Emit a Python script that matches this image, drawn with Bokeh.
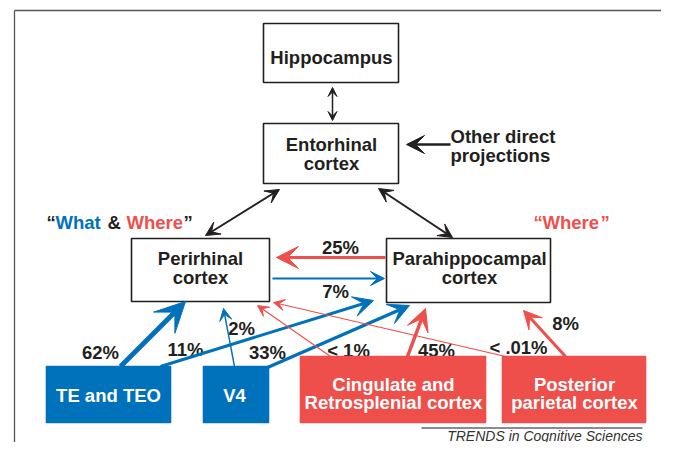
from bokeh.plotting import figure
from bokeh.models import Range1d, Arrow, VeeHead, ColumnDataSource
from bokeh.core.properties import value
from bokeh.embed import file_html
from bokeh.resources import INLINE

# ---------------- data ----------------
node_names = ["Hippocampus", "Entorhinal", "Perirhinal", "Parahippocampal",
              "TE and TEO", "V4", "Cingulate", "Posterior"]
node_labels = [["Hippocampus"], ["Entorhinal", "cortex"], ["Perirhinal", "cortex"],
               ["Parahippocampal", "cortex"], ["TE and TEO"], ["V4"],
               ["Cingulate and", "Retrosplenial cortex"], ["Posterior", "parietal cortex"]]
node_kind = ["mtl", "mtl", "mtl", "mtl", "what", "what", "where", "where"]

proj_source = ["TE and TEO", "TE and TEO", "V4", "V4", "Cingulate", "Cingulate", "Posterior", "Posterior",
               "Parahippocampal", "Perirhinal"]
proj_target = ["Perirhinal", "Parahippocampal", "Perirhinal", "Parahippocampal", "Perirhinal",
               "Parahippocampal", "Perirhinal", "Parahippocampal", "Perirhinal", "Parahippocampal"]
proj_pct = ["62%", "11%", "2%", "33%", "< 1%", "45%", "< .01%", "8%", "25%", "7%"]

credit = "TRENDS in Cognitive Sciences"

# ---------------- layout (pixel positions) ----------------
BLUE = "#0071bb"
RED = "#ee4f4b"
INK = "#231f20"
FONT = value("Liberation Sans")
FS = "18.5px"

box_pos = {  # left, right, top, bottom
    "Hippocampus": (263, 398, 23, 82),
    "Entorhinal": (263, 398, 123, 183),
    "Perirhinal": (131, 269, 238, 301),
    "Parahippocampal": (386, 550, 238, 302),
    "TE and TEO": (46, 170, 366, 422),
    "V4": (203, 268, 366, 422),
    "Cingulate": (300, 485, 356, 422),
    "Posterior": (502, 645, 356, 422),
}
label_rows = {
    "Hippocampus": [56.5], "Entorhinal": [144, 163], "Perirhinal": [258, 277],
    "Parahippocampal": [258, 277], "TE and TEO": [395], "V4": [395],
    "Cingulate": [383.5, 401.5], "Posterior": [383.5, 401.5],
}
label_x = {"Hippocampus": 331, "Entorhinal": 331, "Perirhinal": 200, "Parahippocampal": 469,
           "TE and TEO": 108, "V4": 234, "Cingulate": 393, "Posterior": 574}

# projection geometry: (x0, y0, x1, y1, width, head size, label x, label y)
proj_geom = [
    (120, 366, 185, 301, 5.0, 30, 100, 352),
    (160, 366, 373, 300, 3.0, 20, 185, 349),
    (234, 366, 223, 308, 1.4, 12, 241, 328),
    (267, 367, 409, 305, 3.5, 21, 267, 352),
    (330, 356, 257, 305, 1.2, 11, 348, 350),
    (407, 356, 425, 308, 3.5, 22, 436, 350),
    (505, 356, 273, 302, 1.2, 11, 518, 347),
    (565, 356, 523, 310, 3.0, 18, 565, 323),
    (385, 257, 276, 257, 3.0, 22, 340, 247),
    (272, 278, 384, 278, 2.0, 14, 335, 291),
]
kind_color = {"TE and TEO": BLUE, "V4": BLUE, "Cingulate": RED, "Posterior": RED,
              "Parahippocampal": RED, "Perirhinal": BLUE}

# ---------------- figure ----------------
p = figure(width=661, height=442, x_range=Range1d(0, 661), y_range=Range1d(442, 0),
           output_backend="svg", toolbar_location=None, min_border=0)
p.axis.visible = False
p.grid.visible = False
p.outline_line_color = None
p.background_fill_color = "white"

# outer frame (left and top edges visible)
p.line([14, 14], [442, 10], line_color="#555555", line_width=1.3)
p.line([14, 661], [10, 10], line_color="#555555", line_width=1.3)


def add_arrow(x0, y0, x1, y1, color, width, size, both=False):
    end = VeeHead(size=size, fill_color=color, line_color=color, line_width=1)
    start = VeeHead(size=size, fill_color=color, line_color=color, line_width=1) if both else None
    p.add_layout(Arrow(x_start=x0, y_start=y0, x_end=x1, y_end=y1, start=start, end=end,
                       line_color=color, line_width=width))


# percentage labels (drawn before boxes, some are partly hidden by them)
lsrc = ColumnDataSource(dict(x=[g[6] for g in proj_geom], y=[g[7] for g in proj_geom], t=proj_pct))
p.text(x="x", y="y", text="t", source=lsrc, text_font=FONT, text_font_style="bold",
       text_font_size=FS, text_color=INK, text_align="center", text_baseline="middle")

# black connections
add_arrow(332, 87, 332, 120, INK, 1.5, 9, both=True)
add_arrow(450, 144, 406, 144, INK, 2.5, 18)
add_arrow(279, 189, 205, 235, INK, 2.0, 14, both=True)
add_arrow(378, 188, 452, 237, INK, 2.0, 14, both=True)

# coloured projections
for s, g in zip(proj_source, proj_geom):
    add_arrow(g[0], g[1], g[2], g[3], kind_color[s], g[4], g[5])

# boxes
fills = {"mtl": "white", "what": BLUE, "where": RED}
lines = {"mtl": INK, "what": BLUE, "where": RED}
bsrc = ColumnDataSource(dict(
    left=[box_pos[n][0] for n in node_names], right=[box_pos[n][1] for n in node_names],
    top=[box_pos[n][2] for n in node_names], bottom=[box_pos[n][3] for n in node_names],
    fill=[fills[k] for k in node_kind], line=[lines[k] for k in node_kind]))
p.quad(left="left", right="right", top="top", bottom="bottom", source=bsrc,
       fill_color="fill", line_color="line", line_width=1.6)

# box labels
tx, ty, tt, tc = [], [], [], []
for n, labs, k in zip(node_names, node_labels, node_kind):
    for lab, yy in zip(labs, label_rows[n]):
        tx.append(label_x[n]); ty.append(yy); tt.append(lab)
        tc.append(INK if k == "mtl" else "white")
p.text(x=tx, y=ty, text=tt, text_color=tc, text_font=FONT, text_font_style="bold",
       text_font_size=FS, text_align="center", text_baseline="middle")

# other direct projections
p.text(x=[450, 450], y=[136, 155], text=["Other direct", "projections"], text_font=FONT,
       text_font_style="bold", text_font_size=FS, text_color=INK,
       text_align="left", text_baseline="middle")

# "What & Where" / "Where"
p.text(x=[46, 55, 107, 126, 183], y=[222] * 5, text=["\u201c", "What", "&", "Where", "\u201d"],
       text_color=[INK, BLUE, INK, RED, INK], text_font=FONT, text_font_style="bold",
       text_font_size=FS, text_align="left", text_baseline="middle")
p.text(x=[533, 542, 600], y=[222] * 3, text=["\u201c", "Where", "\u201d"],
       text_color=[RED, RED, RED], text_font=FONT, text_font_style="bold",
       text_font_size=FS, text_align="left", text_baseline="middle")

# credit
p.segment(x0=[421], y0=[427.5], x1=[642], y1=[427.5], line_color="#666666", line_width=1.5)
p.text(x=[642], y=[435], text=[credit], text_font=FONT, text_font_style="italic",
       text_font_size="14px", text_color="#333333", text_align="right", text_baseline="middle")

open("out.html", "w").write(file_html(p, INLINE))
